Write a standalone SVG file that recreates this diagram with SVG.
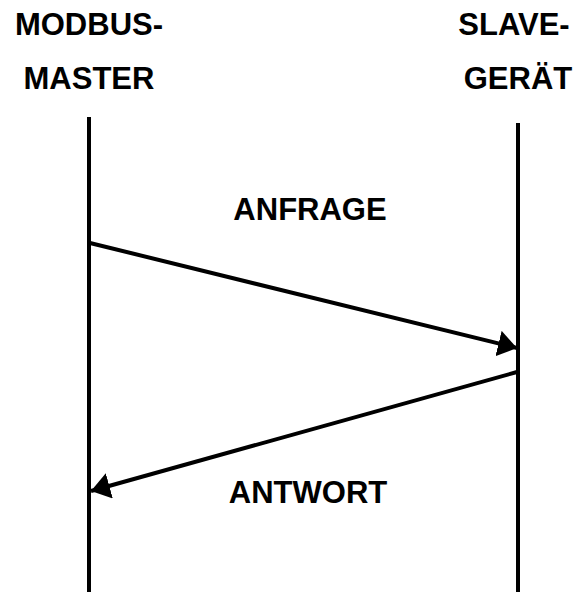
<svg xmlns="http://www.w3.org/2000/svg" width="577" height="592" viewBox="0 0 577 592">
<style>
text{font-family:"Liberation Sans",Arial,sans-serif;font-weight:bold;font-size:31px;fill:#000;text-anchor:middle}
.life{stroke:#000;stroke-width:4;fill:none}
.msg{stroke:#000;stroke-width:4;fill:none}
</style>
<defs>
<marker id="ah" markerUnits="userSpaceOnUse" markerWidth="22" markerHeight="26" refX="19" refY="13" orient="auto">
<path d="M0,0 L19,13 L0,26 Z" fill="#000"/>
</marker>
</defs>
<g id="master">
<text x="89" y="35">MODBUS-</text>
<text x="89" y="89">MASTER</text>
<line class="life" x1="89" y1="117" x2="89" y2="592"/>
</g>
<g id="slave">
<text x="514" y="35">SLAVE-</text>
<text x="518" y="89">GERÄT</text>
<line class="life" x1="518" y1="123" x2="518" y2="592"/>
</g>
<g id="connectors">
<line class="msg" x1="90" y1="243" x2="517" y2="348" marker-end="url(#ah)"/>
<line class="msg" x1="517" y1="372" x2="91" y2="491" marker-end="url(#ah)"/>
</g>
<g id="labels">
<text x="310" y="220">ANFRAGE</text>
<text x="308" y="503">ANTWORT</text>
</g>
</svg>
